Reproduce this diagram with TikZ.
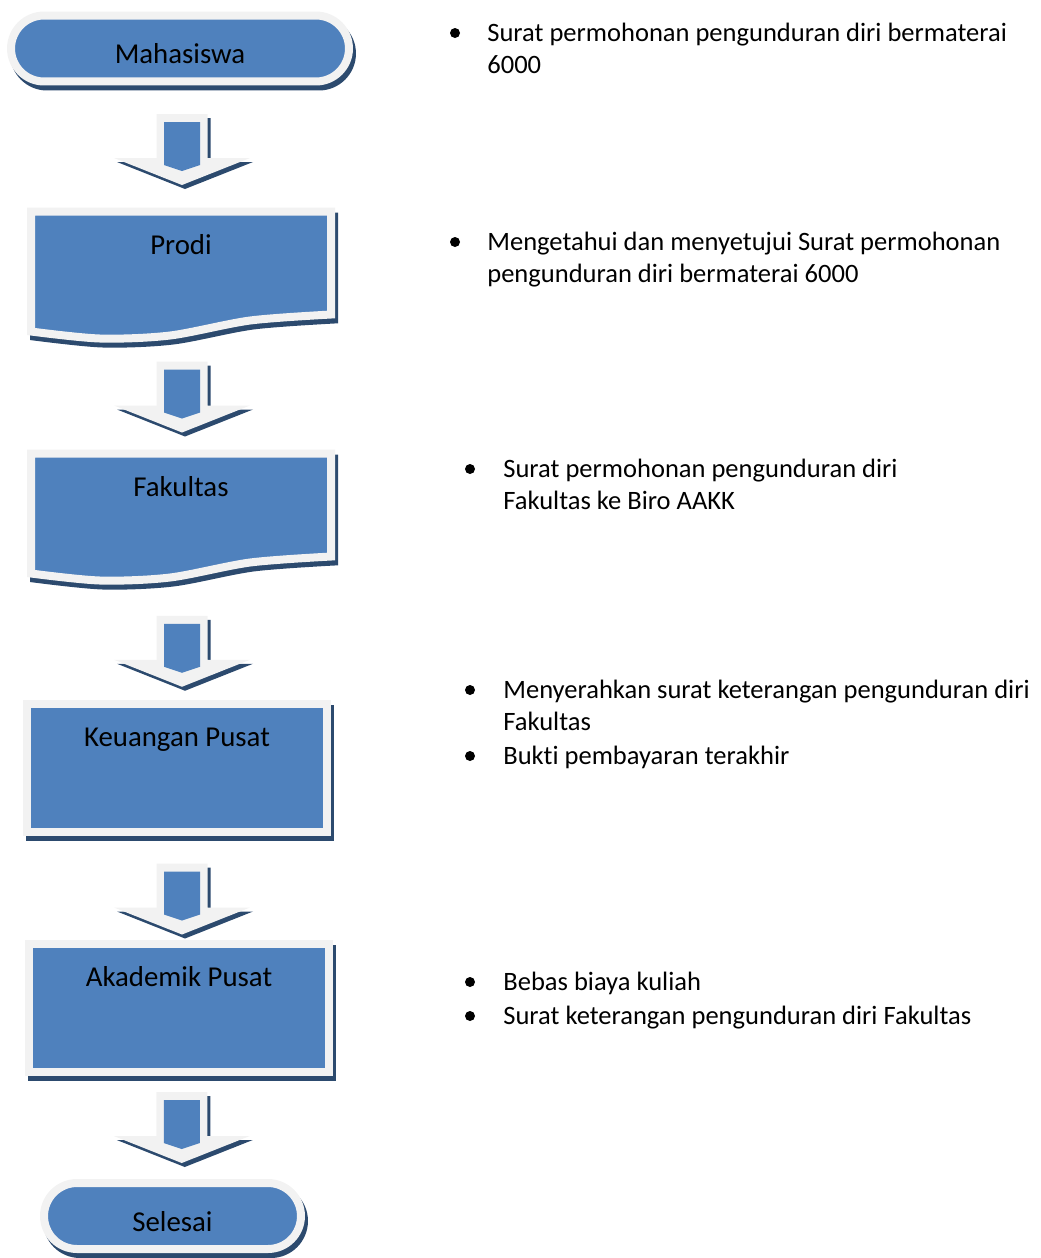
\documentclass[tikz,border=0pt]{standalone}
\usepackage{fontspec}
\setmainfont{Carlito}[Ligatures=NoCommon]
\usepackage{tikz}
\usetikzlibrary{calc, shapes.misc, backgrounds}
\definecolor{boxblue}{HTML}{4F81BD}
\definecolor{ringgrey}{HTML}{F2F2F2}
\definecolor{shadowblue}{HTML}{2C4A6E}
\tikzset{
  ring/.style={draw=ringgrey, fill=boxblue, line width=0.16cm, outer sep=0pt, inner sep=0pt},
  darkshadow/.style={preaction={draw=shadowblue, fill=shadowblue, line width=0.16cm,
      transform canvas={shift={(0.06cm,-0.1cm)}}}},
  boxfont/.style={font=\fontsize{16.4pt}{19.7pt}\selectfont},
  termbox/.style={rounded rectangle, ring, darkshadow, boxfont, minimum width=#1,
      minimum height=1.32cm, text height=0.6cm, text depth=0pt},
  procbox/.style={rectangle, ring, darkshadow, boxfont, minimum width=6cm,
      text height=0.85cm, text depth=1.71cm},
  docbox/.style={rectangle, boxfont, outer sep=0pt, inner sep=0pt, minimum width=6cm,
      text height=0.85cm, text depth=1.69cm},
  listtext/.style={anchor=base west, align=left, inner sep=0pt,
      font=\fontsize{15.1pt}{18.1pt}\selectfont},
  dot/.style={circle, fill=black, inner sep=0pt, minimum size=0.2cm},
  blockdown/.pic={
    \fill[shadowblue, shift={(3,4)}] (-25.5,-35.5) -- (25.5,-35.5) -- (25.5,8.5) -- (68,8.5)
        -- (0,35.5) -- (-68,8.5) -- (-25.5,8.5) -- cycle;
    \fill[ringgrey] (-25.5,-35.5) -- (25.5,-35.5) -- (25.5,8.5) -- (68,8.5)
        -- (0,35.5) -- (-68,8.5) -- (-25.5,8.5) -- cycle;
    \fill[boxblue] (-18,-27.5) -- (18,-27.5) -- (18,15.5) -- (0,21.5) -- (-18,15.5) -- cycle;
  }
}
\begin{document}
\begin{tikzpicture}[x=0.02cm, y=-0.02cm]
\useasboundingbox (0,0) rectangle (1041,1258);

% flow boxes
\node[termbox=6.76cm] (mhs) at (180,48.5) {Mahasiswa};
\node[docbox] (prodi) at (181,275) {Prodi};
\node[docbox] (fak) at (181,517) {Fakultas};
\node[procbox] (keu) at (177,768) {Keuangan Pusat};
\node[procbox] (akd) at (179,1008) {Akademik Pusat};
\node[termbox=5.14cm] (selesai) at (172.5,1216) {Selesai};

% wavy document shapes behind Prodi and Fakultas
\foreach \n in {prodi,fak} {
  \begin{scope}[on background layer, shift={(\n.north west)}]
    \filldraw[shadowblue, line width=0.16cm, shift={(3,5)}] (0,0) -- (300,0)
      -- plot[smooth] coordinates {(300,103) (219,109) (139,124) (69,127) (0,120)} -- cycle;
    \filldraw[ring] (0,0) -- (300,0)
      -- plot[smooth] coordinates {(300,103) (219,109) (139,124) (69,127) (0,120)} -- cycle;
  \end{scope}
}

% block arrows between the boxes
\foreach \a/\b/\dx/\dy in {mhs/prodi/1.5/3, prodi/fak/1/1, fak/keu/3/9, keu/akd/4/11, akd/selesai/6/0}
  \pic at ($(\a.south)!0.5!(\b.north)+(\dx,\dy)$) {blockdown};

% notes (base = last line)
\node[dot] (d1) at (455,33) {};
\node[listtext] (n1) at (487,73) {Surat permohonan pengunduran diri bermaterai\\6000};
\node[dot] (d2) at (455,242) {};
\node[listtext] (n2) at (487,282) {Mengetahui dan menyetujui Surat permohonan\\pengunduran diri bermaterai 6000};
\node[dot] (d3) at (470,469) {};
\node[listtext] (n3) at (503,509) {Surat permohonan pengunduran diri\\Fakultas ke Biro AAKK};
\node[dot] (d4) at (470,690) {};
\node[listtext] (n4) at (503,730) {Menyerahkan surat keterangan pengunduran diri\\Fakultas};
\node[dot] (d5) at (470,756) {};
\node[listtext] (n5) at (503,764) {Bukti pembayaran terakhir};
\node[dot] (d6) at (470,982) {};
\node[listtext] (n6) at (503,990) {Bebas biaya kuliah};
\node[dot] (d7) at (470,1016) {};
\node[listtext] (n7) at (503,1024) {Surat keterangan pengunduran diri Fakultas};
\end{tikzpicture}
\end{document}
